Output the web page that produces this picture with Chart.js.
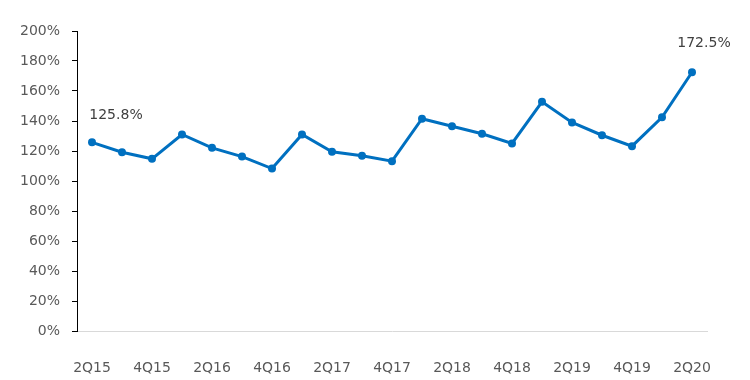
<!DOCTYPE html>
<html>
<head>
<meta charset="utf-8">
<script src="https://cdn.jsdelivr.net/npm/chart.js@4/dist/chart.umd.min.js"></script>
<style>
  html, body { margin: 0; padding: 0; background: #fff; }
  #wrap { width: 750px; height: 380px; }
</style>
</head>
<body>
<div id="wrap"><canvas id="c" width="750" height="380"></canvas></div>
<script>
const categories = ["2Q15","3Q15","4Q15","1Q16","2Q16","3Q16","4Q16","1Q17","2Q17","3Q17","4Q17","1Q18","2Q18","3Q18","4Q18","1Q19","2Q19","3Q19","4Q19","1Q20","2Q20"];
const ratioValues = [125.8,119.2,114.8,131.0,122.1,116.3,108.3,131.0,119.5,116.8,113.2,141.5,136.5,131.5,125.0,152.8,139.0,130.5,123.2,142.5,172.5];
const yTickValues = [0,20,40,60,80,100,120,140,160,180,200];
const labelledIndices = [0, 20];

const FONT = "'DejaVu Sans', sans-serif";
const TEXT = '#595959';
const LABEL_TEXT = '#404040';

const labelOffsets = { 0: { dx: 24, dy: -27 }, 20: { dx: 12, dy: -29 } };

const valueLabels = {
  id: 'valueLabels',
  afterDatasetsDraw(chart) {
    const ctx = chart.ctx;
    const meta = chart.getDatasetMeta(0);
    ctx.save();
    ctx.font = '14px ' + FONT;
    ctx.fillStyle = LABEL_TEXT;
    ctx.textAlign = 'center';
    ctx.textBaseline = 'middle';
    labelledIndices.forEach(i => {
      const el = meta.data[i];
      const off = labelOffsets[i] || { dx: 0, dy: -20 };
      ctx.fillText(ratioValues[i].toFixed(1) + '%', el.x + off.dx, el.y + off.dy);
    });
    ctx.restore();
  }
};

new Chart(document.getElementById('c'), {
  type: 'line',
  data: {
    labels: categories,
    datasets: [{
      data: ratioValues,
      borderColor: '#0070C0',
      backgroundColor: '#0070C0',
      borderWidth: 3,
      pointRadius: 4,
      pointHoverRadius: 4,
      pointBackgroundColor: '#0070C0',
      pointBorderColor: '#0070C0',
      pointBorderWidth: 0,
      tension: 0,
      fill: false
    }]
  },
  options: {
    responsive: false,
    animation: false,
    devicePixelRatio: 1,
    layout: { padding: { top: 31, right: 43, left: 0, bottom: 0 } },
    plugins: { legend: { display: false }, tooltip: { enabled: false } },
    scales: {
      x: {
        type: 'category',
        offset: true,
        grid: { display: false, drawTicks: false, drawOnChartArea: false },
        border: { display: true, color: '#D9D9D9', width: 1 },
        ticks: {
          autoSkip: false,
          maxRotation: 0,
          minRotation: 0,
          padding: 29,
          color: TEXT,
          font: { family: FONT, size: 14 },
          callback: (v, i) => (i % 2 === 0 ? categories[i] : '')
        },
        afterFit: s => { s.height = 49; }
      },
      y: {
        min: 0,
        max: 200,
        afterBuildTicks: s => { s.ticks = yTickValues.map(v => ({ value: v })); },
        grid: { drawOnChartArea: false, drawTicks: true, tickLength: 5, color: '#000' },
        border: { display: true, color: '#000', width: 1 },
        ticks: {
          padding: 12,
          color: TEXT,
          font: { family: FONT, size: 14 },
          callback: v => v + '%'
        },
        afterFit: s => { s.width = 77; }
      }
    }
  },
  plugins: [valueLabels]
});
</script>
</body>
</html>
